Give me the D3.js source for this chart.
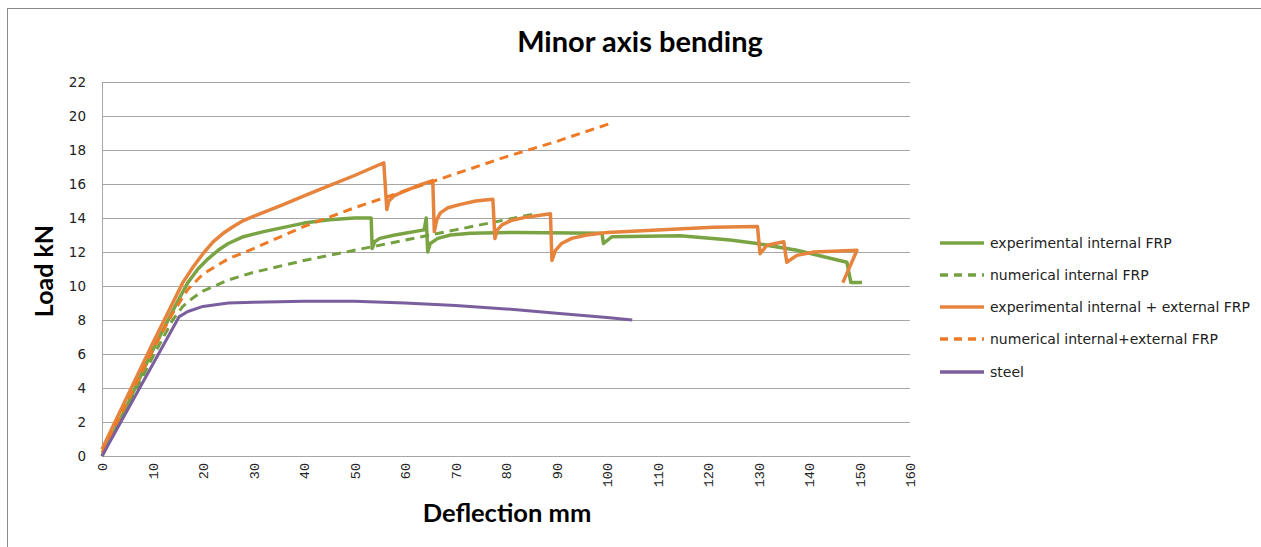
<!DOCTYPE html>
<html><head><meta charset="utf-8">
<script src="https://cdn.jsdelivr.net/npm/d3@7"></script>
<style>body{margin:0;background:#fff}svg{display:block}</style>
</head><body>
<svg id="c" width="1261" height="547"></svg>
<script>
// ---- data (deflection mm, load kN) ----
const xTicks = [0,10,20,30,40,50,60,70,80,90,100,110,120,130,140,150,160];
const yTicks = [0,2,4,6,8,10,12,14,16,18,20,22];
const seriesNames = ["experimental internal FRP","numerical internal FRP","experimental internal + external FRP","numerical internal+external FRP","steel"];

const expIntX = [0,5,10,15,17,19,21,23,25,28,32,36,40,45,50,53.3,53.5,54,55,58,63.8,64.2,64.5,65,66.5,69,73,82,99,99.3,101,114.5,124.4,129.7,137.6,147.5,148.3,150.5];
const expIntY = [0,3,6.2,9.1,10.2,11.0,11.6,12.1,12.5,12.9,13.2,13.45,13.7,13.9,14.0,14.0,12.2,12.6,12.8,13.0,13.3,14.0,12.0,12.5,12.8,13.0,13.1,13.15,13.1,12.5,12.9,12.95,12.7,12.5,12.1,11.4,10.2,10.2];

const numIntX = [0,5,10,14,16,18,20,25,30,40,50,60,70,80,86];
const numIntY = [0,2.9,5.8,8.0,8.8,9.3,9.7,10.35,10.8,11.5,12.1,12.7,13.3,13.9,14.25];

const expExtX = [0,5,10,14,16,18,20,22,24,26,28,30,33,36,40,45,50,55.8,56.4,56.8,57.8,60,63.5,65.5,65.8,66.3,67,68.5,71,74,77.4,77.8,78.3,79.2,81,84,88.8,89.1,89.8,91,93,96,100,110,121,129.8,130.3,131.7,135,135.6,137.6,141,149.5,146.7];
const expExtY = [0.4,3.5,6.6,9.0,10.2,11.1,11.9,12.6,13.1,13.5,13.85,14.1,14.45,14.8,15.3,15.9,16.5,17.25,14.5,15.0,15.3,15.6,16.0,16.2,13.2,13.9,14.3,14.6,14.8,15.0,15.1,12.8,13.3,13.6,13.85,14.05,14.25,11.5,12.1,12.5,12.8,13.0,13.15,13.3,13.45,13.5,11.9,12.4,12.6,11.4,11.8,12.0,12.1,10.2];

const numExtX = [0,5,10,14,17,20,25,30,40,50,60,70,80,90,101];
const numExtY = [0.2,3.2,6.2,8.4,9.8,10.7,11.6,12.2,13.5,14.6,15.6,16.6,17.6,18.5,19.6];

const steelX = [0,15.3,17,20,25,30,40,50,60,70,80,90,100,105];
const steelY = [0,8.2,8.5,8.8,9.0,9.05,9.1,9.1,9.0,8.85,8.65,8.4,8.15,8.0];

const colors = ["#7AA444","#74A040","#E6843D","#EE7A26","#7B5E9E"];
const dashes = [null,"9,6",null,"9,6",null];
const widths = [3.5,3,3.5,3,3];

const series = [
  {x:expIntX,y:expIntY},{x:numIntX,y:numIntY},{x:expExtX,y:expExtY},{x:numExtX,y:numExtY},{x:steelX,y:steelY}
];

const svg = d3.select("#c");
// outer chart border
svg.append("rect").attr("x",7.5).attr("y",8.5).attr("width",1300).attr("height",600)
  .attr("fill","#fff").attr("stroke","#8a8a8a").attr("stroke-width",1);

const x = d3.scaleLinear().domain([0,160]).range([102,910]);
const y = d3.scaleLinear().domain([0,22]).range([456,82]);

// gridlines
svg.append("g").selectAll("line").data(yTicks).join("line")
  .attr("x1",x(0)).attr("x2",x(160))
  .attr("y1",d=>Math.round(y(d))+0.5).attr("y2",d=>Math.round(y(d))+0.5)
  .attr("stroke","#A6A6A6").attr("stroke-width",1);
// left axis line
svg.append("line").attr("x1",x(0)+0.5).attr("x2",x(0)+0.5).attr("y1",y(22)).attr("y2",y(0))
  .attr("stroke","#A6A6A6");

// y axis
const ya = svg.append("g").attr("transform",`translate(${x(0)},0)`)
  .call(d3.axisLeft(y).tickValues(yTicks).tickSize(0).tickPadding(16));
ya.select(".domain").remove();
ya.selectAll("text").attr("font-family","DejaVu Sans, sans-serif").attr("font-size",13.5).attr("fill","#222");

// x axis
const xa = svg.append("g").attr("transform",`translate(0,${y(0)})`)
  .call(d3.axisBottom(x).tickValues(xTicks).tickSize(0));
xa.select(".domain").attr("stroke","#A6A6A6");
xa.selectAll("text").attr("font-family","Liberation Mono, monospace").attr("font-size",13.5).attr("fill","#222")
  .attr("transform","rotate(-90)").attr("text-anchor","end").attr("dy","0.35em").attr("x",-7).attr("y",0);

// lines
const line = d3.line().x(d=>x(d[0])).y(d=>y(d[1]));
series.forEach((s,i)=>{
  const pts = s.x.map((v,j)=>[v,s.y[j]]);
  svg.append("path").datum(pts).attr("d",line).attr("fill","none")
    .attr("stroke",colors[i]).attr("stroke-width",widths[i])
    .attr("stroke-dasharray",dashes[i]).attr("stroke-linejoin","round");
});

// titles
svg.append("text").attr("x",640).attr("y",52).attr("text-anchor","middle")
  .attr("font-family","Lato, sans-serif").attr("font-weight",700).attr("font-size",29).text("Minor axis bending");
svg.append("text").attr("transform","translate(53,271) rotate(-90)").attr("text-anchor","middle")
  .attr("font-family","Lato, sans-serif").attr("font-weight",700).attr("font-size",25).text("Load kN");
svg.append("text").attr("x",507).attr("y",522).attr("text-anchor","middle")
  .attr("font-family","Lato, sans-serif").attr("font-weight",700).attr("font-size",25.5).text("Deflection mm");

// legend
const lg = svg.append("g");
const rowsY = [243,275,307,339,372];
seriesNames.forEach((n,i)=>{
  lg.append("line").attr("x1",940).attr("x2",984).attr("y1",rowsY[i]).attr("y2",rowsY[i])
    .attr("stroke",colors[i]).attr("stroke-width",3.5).attr("stroke-dasharray",dashes[i]?"8,6":null);
  lg.append("text").attr("x",990).attr("y",rowsY[i]).attr("dy","0.35em")
    .attr("font-family","DejaVu Sans, sans-serif").attr("font-size",14).attr("fill","#222").text(n);
});
</script>
</body></html>
